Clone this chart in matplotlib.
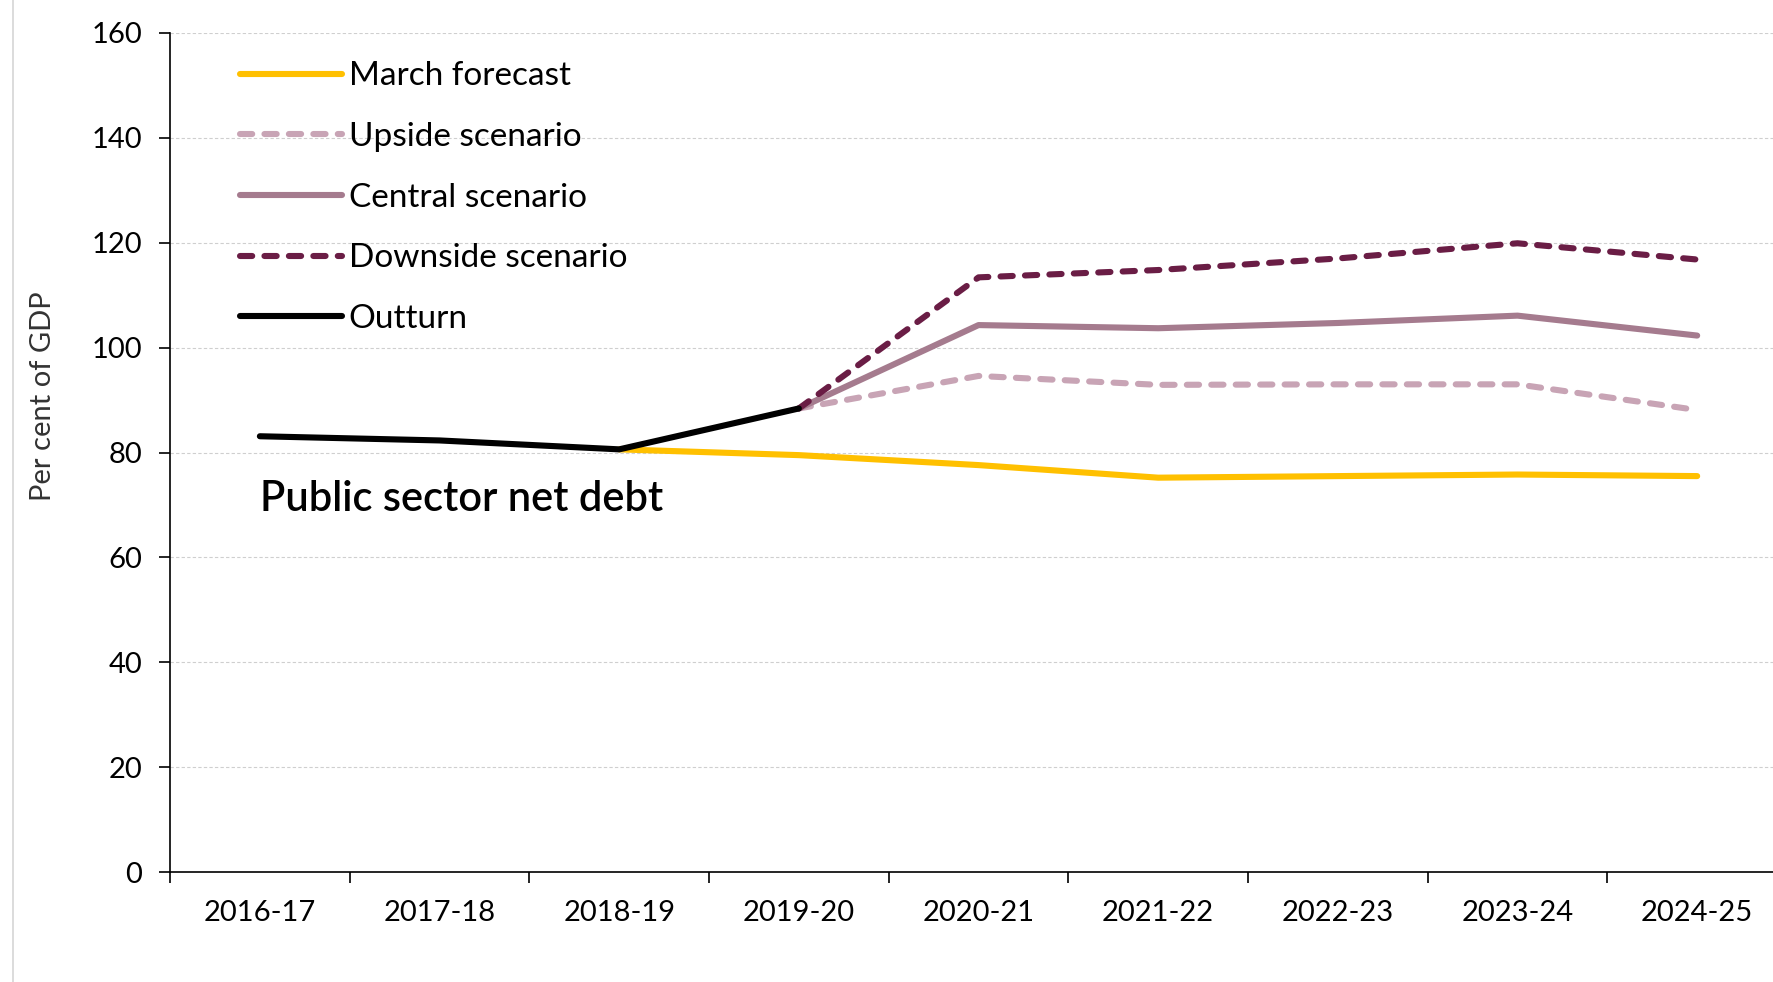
import numpy as np
import matplotlib
matplotlib.use("Agg")
from matplotlib import pyplot as plt
from matplotlib.lines import Line2D

years = ["2016-17", "2017-18", "2018-19", "2019-20", "2020-21",
         "2021-22", "2022-23", "2023-24", "2024-25"]

nan = np.nan
# Per cent of GDP
outturn = [83.1, 82.3, 80.6, 88.4, nan, nan, nan, nan, nan]
march_forecast = [nan, nan, 80.6, 79.5, 77.6, 75.2, 75.5, 75.8, 75.5]
upside = [nan, nan, nan, 88.4, 94.6, 92.9, 93.0, 93.0, 88.1]
central = [nan, nan, nan, 88.4, 104.3, 103.7, 104.7, 106.1, 102.3]
downside = [nan, nan, nan, 88.4, 113.4, 114.8, 117.0, 119.9, 116.8]

plt.rcParams['font.family'] = ['Lato', 'DejaVu Sans']

fig = plt.figure(figsize=(17.73, 9.82), dpi=100)
ax = fig.add_axes([0.0959, 0.112, 0.912, 0.8544])

x = np.arange(len(years))
lw = 4.4
ax.plot(x, march_forecast, color="#FFC000", lw=lw, solid_capstyle="round",
        label="March forecast", zorder=3)
ax.plot(x, upside, color="#C8A4B5", lw=lw, ls=(0, (2.0, 2.0)),
        dash_capstyle="round", label="Upside scenario", zorder=3)
ax.plot(x, central, color="#A57B8E", lw=lw, solid_capstyle="round",
        label="Central scenario", zorder=3)
ax.plot(x, downside, color="#6A1D45", lw=lw, ls=(0, (2.0, 2.0)),
        dash_capstyle="round", label="Downside scenario", zorder=3)
ax.plot(x, outturn, color="black", lw=lw, solid_capstyle="round",
        label="Outturn", zorder=4)

ax.set_xlim(-0.5, len(years) - 0.5)
ax.set_ylim(0, 160)
ax.set_yticks(np.arange(0, 161, 20))
ax.set_xticks(x)
ax.set_xticklabels(years)
ax.set_xticks(np.arange(-0.5, len(years), 1), minor=True)
ax.tick_params(axis="x", which="major", length=0, pad=20, labelsize=21)
ax.tick_params(axis="x", which="minor", length=8, width=1.2, direction="out")
ax.tick_params(axis="y", length=8, width=1.2, pad=12, labelsize=21)

ax.grid(axis="y", color="#CFCFCF", ls=(0, (3, 2)), lw=0.8)
ax.set_axisbelow(True)
for side in ["top", "right"]:
    ax.spines[side].set_visible(False)
ax.spines["left"].set_linewidth(1.2)
ax.spines["bottom"].set_linewidth(1.2)

ax.text(0.0, 71.2, "Public sector net debt", fontsize=30, fontweight="semibold",
        ha="left", va="center")

fig.text(0.024, 0.597, "Per cent of GDP", rotation=90, fontsize=21,
         ha="center", va="center", color="#333333")

leg = ax.legend(loc="upper left", bbox_to_anchor=(0.035, 0.982), frameon=False,
                fontsize=24, handlelength=3.06, handletextpad=0.2,
                labelspacing=0.92, borderaxespad=0)

# thin frame line down the left edge
fig.add_artist(Line2D([0.0073, 0.0073], [0, 1], color="#D6D6D6", lw=1.2,
                      transform=fig.transFigure))

fig.savefig("out.png", dpi=100)
